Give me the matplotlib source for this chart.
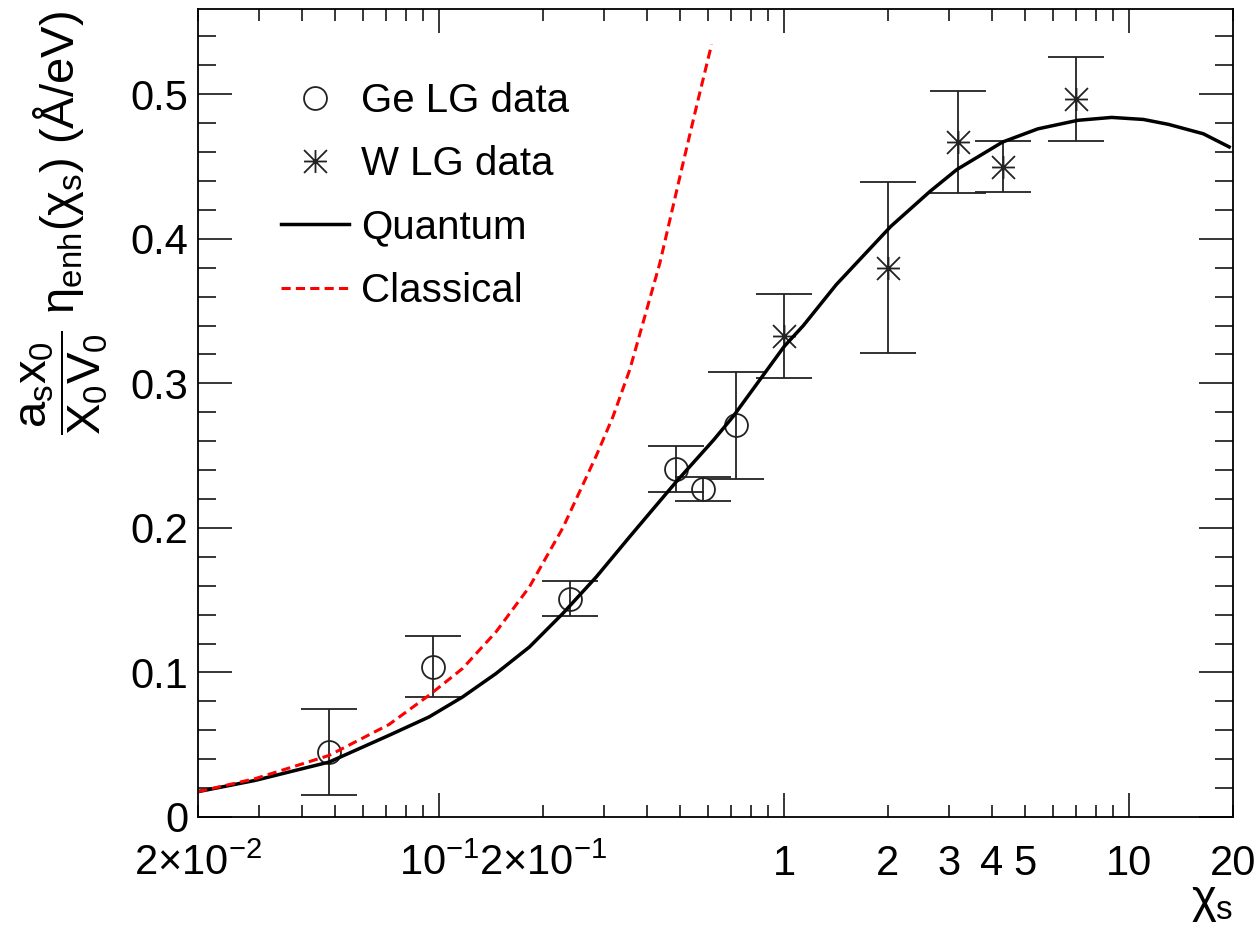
import matplotlib
matplotlib.use("Agg")
import matplotlib.pyplot as plt
from matplotlib.path import Path
from matplotlib.ticker import FixedLocator, FixedFormatter, MultipleLocator, FuncFormatter

plt.rcParams["font.family"] = ["Liberation Sans", "DejaVu Sans"]
plt.rcParams["mathtext.fontset"] = "custom"
plt.rcParams["mathtext.rm"] = "Liberation Sans"
plt.rcParams["mathtext.it"] = "Liberation Sans"
plt.rcParams["mathtext.sf"] = "Liberation Sans"
plt.rcParams["mathtext.bf"] = "Liberation Sans:bold"

# Ge LG data (open circles)
ge_x = [0.048, 0.096, 0.240, 0.485, 0.583, 0.725]
ge_y = [0.045, 0.104, 0.151, 0.241, 0.227, 0.271]
ge_err = [0.030, 0.021, 0.012, 0.016, 0.0085, 0.037]

# W LG data (asterisks)
w_x = [1.0, 2.0, 3.2, 4.3, 7.0]
w_y = [0.333, 0.380, 0.467, 0.450, 0.497]
w_err = [0.029, 0.059, 0.035, 0.0175, 0.029]

# Quantum curve
quantum_x = [0.02, 0.0293, 0.048, 0.0716, 0.0935, 0.1169, 0.1461, 0.1827, 0.2283,
             0.2855, 0.3568, 0.4135, 0.487, 0.625, 0.711, 1.0, 1.137, 1.416, 2.04,
             2.65, 3.17, 4.3, 5.44, 7.1, 8.9, 11.0, 13.0, 16.4, 19.5]
quantum_y = [0.0175, 0.0253, 0.038, 0.0565, 0.0692, 0.083, 0.0992, 0.1176, 0.1408,
             0.1661, 0.1939, 0.212, 0.232, 0.2609, 0.277, 0.3255, 0.340, 0.3683, 0.4087,
             0.4329, 0.448, 0.467, 0.4761, 0.482, 0.484, 0.4826, 0.4792, 0.4727, 0.4636]

# Classical curve
classical_x = [0.02, 0.0293, 0.048, 0.0716, 0.0935, 0.1169, 0.1461, 0.1827, 0.2283,
               0.2855, 0.3191, 0.3568, 0.4364, 0.5096, 0.5574, 0.6162]
classical_y = [0.0175, 0.0265, 0.0426, 0.064, 0.0842, 0.1027, 0.128, 0.1592, 0.200,
               0.250, 0.277, 0.3094, 0.3833, 0.4526, 0.4918, 0.5345]

x_minor = [0.02, 0.03, 0.04, 0.05, 0.06, 0.07, 0.08, 0.09,
           0.2, 0.3, 0.4, 0.5, 0.6, 0.7, 0.8, 0.9,
           2, 3, 4, 5, 6, 7, 8, 9, 20]
x_minor_labels = {0.02: r"$\mathregular{2×10^{-2}}$", 0.2: r"$\mathregular{2×10^{-1}}$",
                  2: "2", 3: "3", 4: "4", 5: "5", 20: "20"}

ink = "#222222"

fig = plt.figure(figsize=(12.58, 9.40), dpi=100)
ax = fig.add_axes([0.1574, 0.1309, 0.8227, 0.8595])

ax.errorbar(ge_x, ge_y, yerr=ge_err, fmt="none", ecolor=ink, elinewidth=1.3,
            capsize=20, capthick=1.3)
ge_pts, = ax.plot(ge_x, ge_y, ls="none", marker="o", ms=16.5, mfc="none",
                  mec=ink, mew=1.3)

star = Path([(-1, 0), (1, 0), (0, -1), (0, 1), (-1, -1), (1, 1), (-1, 1), (1, -1)],
            [Path.MOVETO, Path.LINETO] * 4)
ax.errorbar(w_x, w_y, yerr=w_err, fmt="none", ecolor=ink, elinewidth=1.3,
            capsize=20, capthick=1.3)
w_pts, = ax.plot(w_x, w_y, ls="none", marker=star, ms=16.5, mfc="none",
                 mec=ink, mew=1.3)

q_line, = ax.plot(quantum_x, quantum_y, color="black", lw=2.5)
c_line, = ax.plot(classical_x, classical_y, color="red", lw=2.2, ls=(0, (3, 1.7)))

ax.set_xscale("log")
ax.set_xlim(0.02, 20)
ax.set_ylim(0, 0.559)

ax.xaxis.set_major_locator(FixedLocator([0.1, 1, 10]))
ax.xaxis.set_major_formatter(FixedFormatter([r"$\mathregular{10^{-1}}$", "1", "10"]))
ax.xaxis.set_minor_locator(FixedLocator(x_minor))
ax.xaxis.set_minor_formatter(FixedFormatter([x_minor_labels.get(v, "") for v in x_minor]))

ax.yaxis.set_major_locator(MultipleLocator(0.1))
ax.yaxis.set_minor_locator(MultipleLocator(0.02))
ax.yaxis.set_major_formatter(FuncFormatter(lambda v, p: "0" if abs(v) < 1e-9 else f"{v:.1f}"))

ax.tick_params(which="both", direction="in", top=True, right=True, colors="black",
               width=1.1, labelsize=30)
ax.tick_params(axis="y", which="major", length=24.5, pad=7)
ax.tick_params(axis="y", which="minor", length=13)
ax.tick_params(axis="x", which="major", length=17, pad=42)
ax.tick_params(axis="x", which="minor", length=8.6, pad=42)
for lab in ax.get_xticklabels(which="both"):
    lab.set_verticalalignment("baseline")

for sp in ax.spines.values():
    sp.set_linewidth(1.3)

ax.legend([ge_pts, w_pts, q_line, c_line],
          ["Ge LG data", "W LG data", "Quantum", "Classical"],
          loc="upper left", bbox_to_anchor=(0.08, 0.91), frameon=False,
          fontsize=29, handlelength=1.7, handletextpad=0.3, labelspacing=0.63,
          borderaxespad=0, borderpad=0, numpoints=1)

fig.text(0.0517, 0.989,
         r"$\dfrac{a_s x_0}{X_0 V_0}\ \eta_{enh}(\chi_s)$ (Å/eV)",
         rotation=90, ha="center", va="top", fontsize=34)
fig.text(0.9801, 0.0298, r"$\chi_s$", ha="right", va="baseline", fontsize=34)

fig.savefig("out.png", dpi=100)
